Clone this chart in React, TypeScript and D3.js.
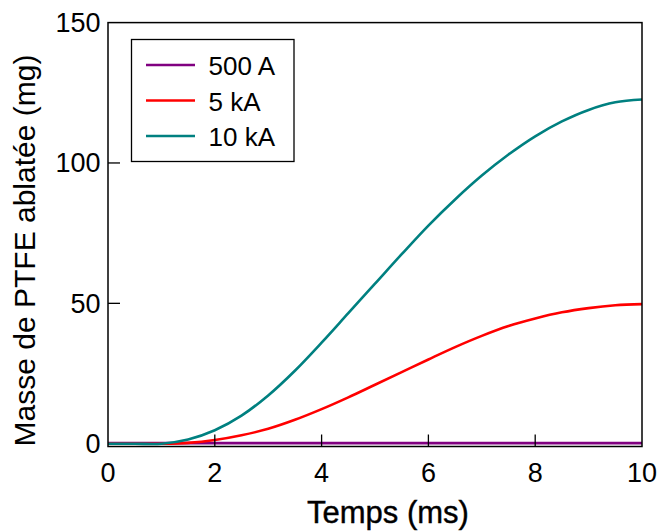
import React from "react";
import * as d3 from "d3";

const times = [0, 0.5, 1, 1.5, 2, 2.5, 3, 3.5, 4, 4.5, 5, 5.5, 6, 6.5, 7, 7.5, 8, 8.5, 9, 9.5, 10];
const mass500A = [0.2, 0.2, 0.2, 0.2, 0.2, 0.2, 0.2, 0.2, 0.2, 0.2, 0.2, 0.2, 0.2, 0.2, 0.2, 0.2, 0.2, 0.2, 0.2, 0.2, 0.2];
const mass5kA = [0, 0, 0, 0.3, 1.3, 3, 5.3, 8.5, 12.3, 16.5, 21, 25.5, 30, 34.4, 38.4, 41.9, 44.6, 46.8, 48.3, 49.3, 49.7];
const mass10kA = [0, 0, 0, 1.5, 4.8, 10, 17.2, 26, 36, 46.5, 57, 67.5, 77.7, 87, 95.5, 103, 109.5, 114.8, 118.9, 121.6, 122.6];

const seriesNames = ["500 A", "5 kA", "10 kA"];
const seriesValues = [mass500A, mass5kA, mass10kA];
const seriesColors = ["#800080", "#ff0000", "#008080"];

const xTicks = [0, 2, 4, 6, 8, 10];
const yTicks = [0, 50, 100, 150];

export default function App() {
  const W = 660, H = 531;
  const left = 108, right = 642, top = 22.6, bottom = 446.5;
  const x = d3.scaleLinear().domain([0, 10]).range([left, right]);
  const y = d3.scaleLinear().domain([-1, 150]).range([bottom, top]);
  const line = d3
    .line<[number, number]>()
    .x((d) => x(d[0]))
    .y((d) => y(d[1]))
    .curve(d3.curveCatmullRom.alpha(0.5));
  const font = "Arial, 'Liberation Sans', sans-serif";

  return (
    <svg width={W} height={H} style={{ position: "absolute", left: 0, top: 0 }} fontFamily={font}>
      <rect x={0} y={0} width={W} height={H} fill="white" />
      <defs>
        <clipPath id="plotclip">
          <rect x={left} y={top} width={right - left} height={bottom - top} />
        </clipPath>
      </defs>
      <g clipPath="url(#plotclip)">
        {seriesValues.map((vals, i) => (
          <path
            key={i}
            d={line(times.map((t, j) => [t, vals[j]] as [number, number])) || ""}
            fill="none"
            stroke={seriesColors[i]}
            strokeWidth={2.6}
          />
        ))}
      </g>
      <rect x={left} y={top} width={right - left} height={bottom - top} fill="none" stroke="#000" strokeWidth={1.5} />
      {xTicks.map((t) => (
        <g key={"x" + t}>
          {t > 0 && t < 10 && <line x1={x(t)} x2={x(t)} y1={bottom} y2={bottom - 12} stroke="#000" strokeWidth={1.3} />}
          <text x={x(t)} y={bottom + 35} textAnchor="middle" fontSize={27} fill="#000">{t}</text>
        </g>
      ))}
      {yTicks.map((t) => (
        <g key={"y" + t}>
          {t > 0 && t < 150 && <line x1={left} x2={left + 12} y1={y(t)} y2={y(t)} stroke="#000" strokeWidth={1.3} />}
          <text x={left - 7.5} y={y(t) + 9.5} textAnchor="end" fontSize={27} fill="#000">{t}</text>
        </g>
      ))}
      <text x={388} y={523} textAnchor="middle" fontSize={31} fill="#000" stroke="#000" strokeWidth={0.4}>Temps (ms)</text>
      <text transform={`translate(35,250.5) rotate(-90)`} textAnchor="middle" fontSize={30} fill="#000">Masse de PTFE ablatée (mg)</text>
      <rect x={131.5} y={39.5} width={162.5} height={122} fill="white" stroke="#000" strokeWidth={1.3} />
      {seriesNames.map((n, i) => (
        <g key={n}>
          <line x1={146} x2={195} y1={65 + i * 35.5} y2={65 + i * 35.5} stroke={seriesColors[i]} strokeWidth={2.6} />
          <text x={208.5} y={65 + i * 35.5 + 10} fontSize={26} fill="#000">{n}</text>
        </g>
      ))}
    </svg>
  );
}
